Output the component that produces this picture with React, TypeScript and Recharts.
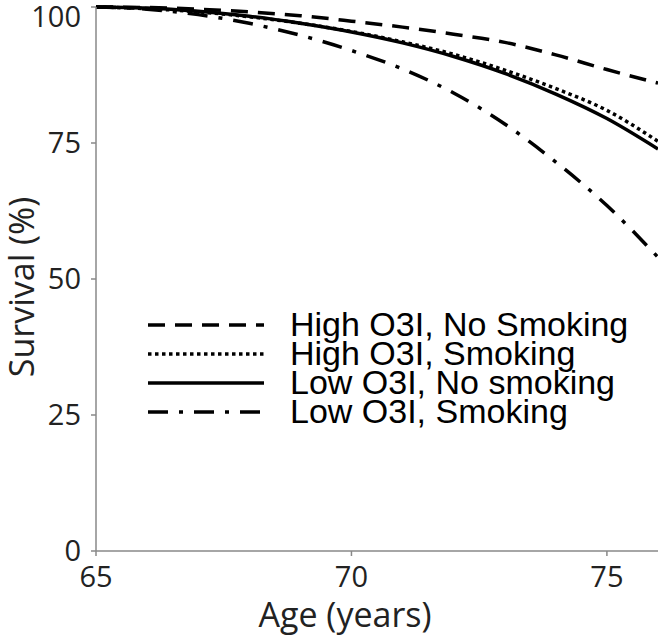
import React from 'react'
import { LineChart, Line, XAxis, YAxis, Legend, Label } from 'recharts'

const ages = [65, 66, 67, 68, 69, 70, 71, 72, 73, 74, 75, 76]
const highNoSmoking = [100, 99.9, 99.6, 99.1, 98.4, 97.4, 96.3, 95.0, 93.5, 91.2, 88.5, 86.0]
const highSmoking = [100, 99.7, 99.1, 98.2, 97.0, 95.5, 93.6, 91.3, 88.4, 85.0, 81.0, 75.3]
const lowNoSmoking = [100, 99.8, 99.2, 98.3, 97.0, 95.4, 93.4, 90.9, 87.8, 84.0, 79.5, 73.9]
const lowSmoking = [100, 99.6, 98.6, 97.0, 94.8, 92.0, 88.6, 84.2, 78.5, 71.5, 63.5, 54.0]

const xTicks = [65, 70, 75]
const yTicks = [0, 25, 50, 75, 100]

const series = [
  { key: 'highNo', name: 'High O3I, No Smoking', dash: '17 10' },
  { key: 'highYes', name: 'High O3I, Smoking', dash: '3.5 3.5' },
  { key: 'lowNo', name: 'Low O3I, No smoking', dash: undefined },
  { key: 'lowYes', name: 'Low O3I, Smoking', dash: '20 11 4 11' },
]

const data = ages.map((age, i) => ({
  age,
  highNo: highNoSmoking[i],
  highYes: highSmoking[i],
  lowNo: lowNoSmoking[i],
  lowYes: lowSmoking[i],
}))

const FONT = '"Open Sans", sans-serif'

function LegendBox() {
  return (
    <div style={{ fontFamily: 'Arial, "Liberation Sans", sans-serif', fontSize: 34, color: '#000' }}>
      {series.map((s) => (
        <div key={s.key} style={{ display: 'flex', alignItems: 'center', height: 29, whiteSpace: 'nowrap' }}>
          <svg width={116} height={10} style={{ marginRight: 26, flex: 'none' }}>
            <line x1={0} y1={5} x2={116} y2={5} stroke="#000" strokeWidth={3.5} strokeDasharray={s.dash} />
          </svg>
          <span style={{ display: 'block', height: 29, lineHeight: '29px' }}>{s.name}</span>
        </div>
      ))}
    </div>
  )
}

export default function App() {
  return (
    <div style={{ position: 'absolute', left: 0, top: 0, background: '#fff' }}>
      <LineChart width={663} height={637} data={data} margin={{ top: 7, right: 5, left: 0, bottom: 0 }}>
        <XAxis
          dataKey="age"
          type="number"
          domain={[65, 76]}
          ticks={xTicks}
          allowDataOverflow
          height={86}
          stroke="#888"
          strokeWidth={1.5}
          tickSize={5}
          tickMargin={10}
          tick={{ fill: '#222', fontSize: 29, fontFamily: FONT }}
        >
          <Label value="Age (years)" position="insideBottom" offset={10} dx={-32} style={{ fill: '#222', fontSize: 34, fontFamily: FONT }} />
        </XAxis>
        <YAxis
          type="number"
          domain={[0, 100]}
          ticks={yTicks}
          width={96}
          stroke="#888"
          strokeWidth={1.5}
          tickSize={5}
          tickMargin={10}
          tick={{ fill: '#222', fontSize: 29, fontFamily: FONT }}
        >
          <Label
            value="Survival (%)"
            angle={-90}
            position="insideLeft"
            offset={22}
            dy={8}
            style={{ textAnchor: 'middle', fill: '#222', fontSize: 34, fontFamily: FONT }}
          />
        </YAxis>
        <Legend
          layout="horizontal"
          verticalAlign="middle"
          align="center"
          content={() => <LegendBox />}
          wrapperStyle={{ left: 148, top: 310, width: 510 }}
        />
        {series.map((s) => (
          <Line
            key={s.key}
            type="monotone"
            dataKey={s.key}
            name={s.name}
            stroke="#000"
            strokeWidth={3.5}
            strokeDasharray={s.dash}
            dot={false}
            isAnimationActive={false}
          />
        ))}
      </LineChart>
    </div>
  )
}
